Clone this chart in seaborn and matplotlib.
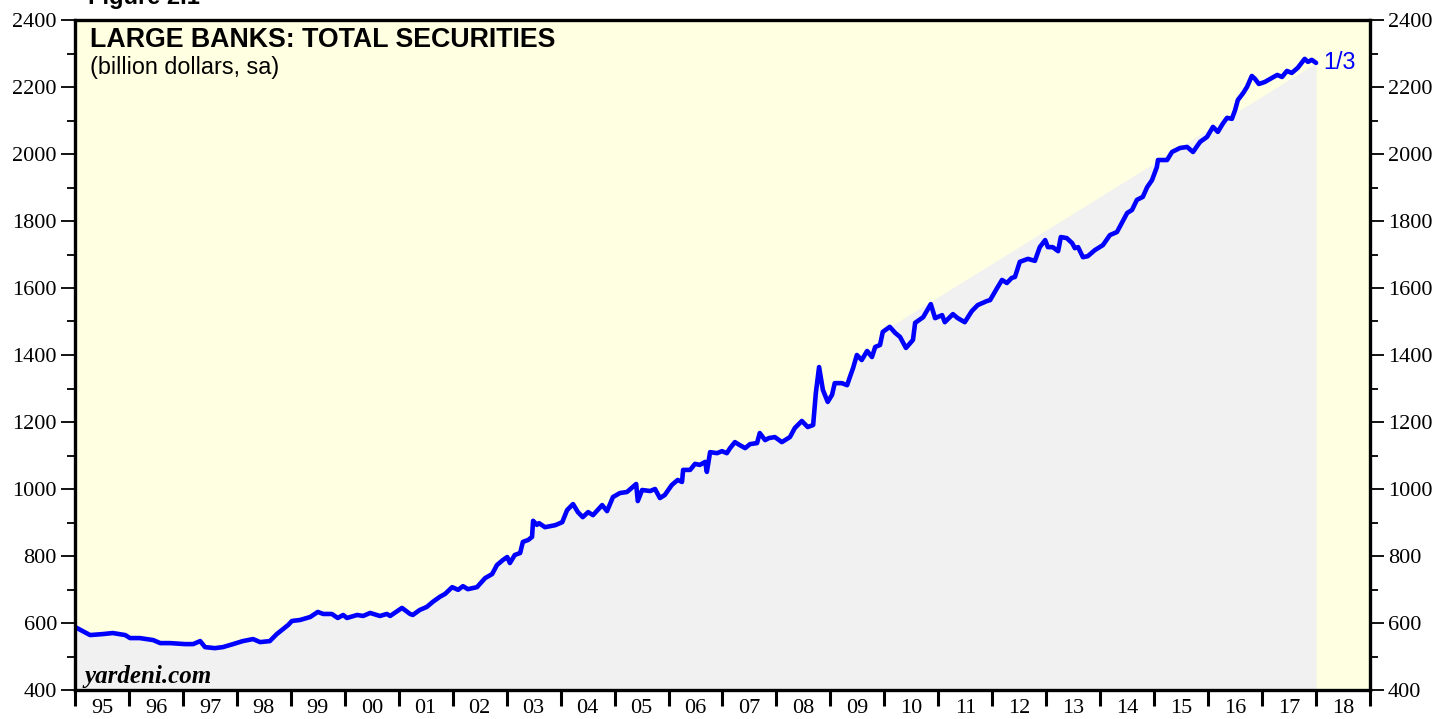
import numpy as np
import matplotlib
matplotlib.use("Agg")
import matplotlib.pyplot as plt
import seaborn as sns
from matplotlib.ticker import FixedLocator, MultipleLocator, NullFormatter

# Weekly total securities held by large banks (billion dollars, sa), decimal-year dates
dates = [
    1995.00, 1995.28, 1995.52, 1995.70, 1995.93, 1996.02, 1996.20, 1996.45, 1996.58, 1996.76,
    1997.04, 1997.19, 1997.32, 1997.41, 1997.59, 1997.74, 1997.93, 1998.11, 1998.30, 1998.43,
    1998.61, 1998.74, 1998.95, 1999.02, 1999.17, 1999.36, 1999.50, 1999.60, 1999.76, 1999.87,
    1999.97, 2000.04, 2000.23, 2000.34, 2000.47, 2000.65, 2000.78, 2000.84, 2001.06, 2001.21,
    2001.26, 2001.39, 2001.52, 2001.63, 2001.76, 2001.86, 2001.99, 2002.10, 2002.19, 2002.28,
    2002.45, 2002.60, 2002.73, 2002.82, 2002.93, 2003.01, 2003.06, 2003.15, 2003.25, 2003.30,
    2003.40, 2003.47, 2003.49, 2003.56, 2003.60, 2003.71, 2003.90, 2004.03, 2004.12, 2004.23,
    2004.32, 2004.41, 2004.51, 2004.60, 2004.77, 2004.86, 2004.97, 2005.10, 2005.23, 2005.40,
    2005.43, 2005.51, 2005.66, 2005.75, 2005.84, 2005.93, 2006.06, 2006.17, 2006.25, 2006.27,
    2006.40, 2006.49, 2006.58, 2006.68, 2006.71, 2006.77, 2006.90, 2006.99, 2007.08, 2007.14,
    2007.23, 2007.32, 2007.42, 2007.51, 2007.64, 2007.69, 2007.79, 2007.86, 2007.97, 2008.10,
    2008.25, 2008.34, 2008.47, 2008.58, 2008.68, 2008.73, 2008.79, 2008.86, 2008.95, 2009.03,
    2009.08, 2009.21, 2009.31, 2009.36, 2009.42, 2009.49, 2009.58, 2009.68, 2009.77, 2009.83,
    2009.92, 2009.97, 2010.10, 2010.20, 2010.29, 2010.40, 2010.53, 2010.57, 2010.72, 2010.86,
    2010.94, 2011.07, 2011.12, 2011.27, 2011.36, 2011.49, 2011.62, 2011.73, 2011.90, 2011.96,
    2012.09, 2012.18, 2012.27, 2012.36, 2012.42, 2012.51, 2012.66, 2012.79, 2012.88, 2012.98,
    2013.03, 2013.12, 2013.22, 2013.27, 2013.38, 2013.48, 2013.53, 2013.59, 2013.68, 2013.77,
    2013.90, 2014.05, 2014.18, 2014.31, 2014.40, 2014.50, 2014.59, 2014.68, 2014.79, 2014.87,
    2014.96, 2015.05, 2015.07, 2015.16, 2015.24, 2015.33, 2015.48, 2015.61, 2015.72, 2015.85,
    2015.98, 2016.09, 2016.18, 2016.27, 2016.35, 2016.44, 2016.50, 2016.55, 2016.65, 2016.72,
    2016.81, 2016.87, 2016.94, 2017.05, 2017.15, 2017.28, 2017.37, 2017.46, 2017.55, 2017.66,
    2017.79, 2017.85, 2017.92, 2018.00,
]
values = [
    588, 564, 567, 570, 564, 555, 555, 549, 540, 540,
    537, 537, 546, 528, 525, 528, 537, 546, 552, 543,
    546, 567, 594, 606, 609, 618, 633, 627, 627, 615,
    624, 615, 624, 621, 630, 621, 627, 621, 645, 627,
    624, 639, 648, 663, 678, 687, 707, 699, 710, 701,
    707, 734, 746, 773, 788, 797, 779, 803, 809, 842,
    848, 857, 905, 893, 898, 886, 892, 901, 937, 955,
    931, 916, 931, 922, 952, 934, 976, 988, 991, 1015,
    964, 997, 994, 1000, 973, 982, 1012, 1027, 1021, 1057,
    1057, 1075, 1072, 1081, 1051, 1110, 1107, 1113, 1107, 1122,
    1140, 1131, 1122, 1134, 1137, 1167, 1146, 1152, 1155, 1140,
    1155, 1182, 1203, 1185, 1191, 1287, 1364, 1296, 1260, 1281,
    1316, 1316, 1310, 1334, 1361, 1400, 1385, 1412, 1394, 1424,
    1430, 1469, 1484, 1466, 1454, 1421, 1445, 1496, 1513, 1552,
    1510, 1519, 1498, 1522, 1510, 1498, 1531, 1549, 1561, 1564,
    1600, 1624, 1615, 1630, 1633, 1678, 1687, 1681, 1722, 1743,
    1722, 1722, 1710, 1752, 1749, 1734, 1719, 1722, 1692, 1695,
    1713, 1728, 1758, 1767, 1794, 1824, 1833, 1863, 1872, 1901,
    1922, 1961, 1982, 1982, 1982, 2006, 2018, 2021, 2006, 2036,
    2051, 2081, 2066, 2090, 2108, 2105, 2131, 2161, 2182, 2200,
    2233, 2224, 2209, 2215, 2224, 2236, 2230, 2248, 2242, 2257,
    2284, 2275, 2281, 2272,
]
year_labels = ["95", "96", "97", "98", "99", "00", "01", "02", "03", "04", "05", "06",
               "07", "08", "09", "10", "11", "12", "13", "14", "15", "16", "17", "18"]
last_label = "1/3"

sns.set_theme(style="ticks")
plt.rcParams["font.family"] = ["Liberation Serif", "DejaVu Serif"]
plt.rcParams["text.color"] = "black"
plt.rcParams["xtick.color"] = "black"
plt.rcParams["ytick.color"] = "black"

SANS = ["Liberation Sans", "DejaVu Sans"]
W, H = 1437, 719
fig = plt.figure(figsize=(W / 100, H / 100), dpi=100)
fig.patch.set_facecolor("white")
ax = fig.add_axes([75 / W, 29 / H, 1295 / W, 670 / H])
ax.set_facecolor("#FFFFE1")

d = np.asarray(dates, dtype=float)
v = np.asarray(values, dtype=float)

# shaded area: series up to its early-2010 high, then a straight run to the latest reading
brk = int(np.argmax(np.where(d < 2010.5, v, -np.inf)))
fx = np.concatenate([d[:brk + 1], d[-1:]])
fy = np.concatenate([v[:brk + 1], v[-1:]])
ax.fill_between(fx, fy, 400, color="#F1F1F1", lw=0, zorder=1)

sns.lineplot(x=d, y=v, ax=ax, color="#0000FF", lw=3.3, estimator=None,
             zorder=3, legend=False)

ax.set_xlim(1995, 2019)
ax.set_ylim(400, 2400)
ax.set_xlabel("")
ax.set_ylabel("")

for s in ax.spines.values():
    s.set_visible(True)
    s.set_linewidth(2.4)
    s.set_color("black")
    s.set_zorder(5)

# y axis: labelled every 200 on both sides, minor every 100
ax.yaxis.set_major_locator(MultipleLocator(200))
ax.yaxis.set_minor_locator(MultipleLocator(100))
ax.tick_params(axis="y", which="major", direction="out", length=10, width=1.3,
               left=True, right=True, labelleft=True, labelright=True,
               labelsize=16, pad=3, colors="black")
ax.tick_params(axis="y", which="minor", direction="out", length=5.5, width=1.3,
               left=True, right=True, colors="black")

# x axis: tick at each year boundary, label centred inside the year
ax.xaxis.set_major_locator(FixedLocator(np.arange(1995, 2020)))
ax.xaxis.set_major_formatter(NullFormatter())
ax.xaxis.set_minor_locator(FixedLocator(np.arange(1995.5, 2019.0, 1.0)))
ax.xaxis.set_minor_formatter(plt.FixedFormatter(year_labels))
ax.tick_params(axis="x", which="major", direction="out", length=11.5, width=2.2,
               bottom=True, top=False, labelbottom=False, colors="black")
ax.tick_params(axis="x", which="minor", length=0, bottom=True, top=False,
               labelbottom=True, labelsize=16, pad=6.5, colors="black")

fig.text(88 / W, 1 - 4 / H, "Figure 2.1", fontsize=17, fontweight="bold",
         family=SANS, color="black", ha="left", va="baseline")
fig.text(90 / W, 1 - 47 / H, "LARGE BANKS: TOTAL SECURITIES", fontsize=19.3,
         fontweight="bold", family=SANS, color="black", ha="left", va="baseline")
fig.text(90 / W, 1 - 74 / H, "(billion dollars, sa)", fontsize=16.8,
         family=SANS, color="black", ha="left", va="baseline")
fig.text(85 / W, 1 - 683 / H, "yardeni.com", fontsize=18, fontweight="bold",
         style="italic", family=["Liberation Serif", "DejaVu Serif"], color="black",
         ha="left", va="baseline", zorder=6)

ax.annotate(last_label, xy=(d[-1], v[-1]), xytext=(5, 0), textcoords="offset points",
            color="#0000FF", fontsize=16.8, family=SANS, ha="left", va="center")

fig.savefig("out.png", dpi=100, facecolor=fig.get_facecolor())
